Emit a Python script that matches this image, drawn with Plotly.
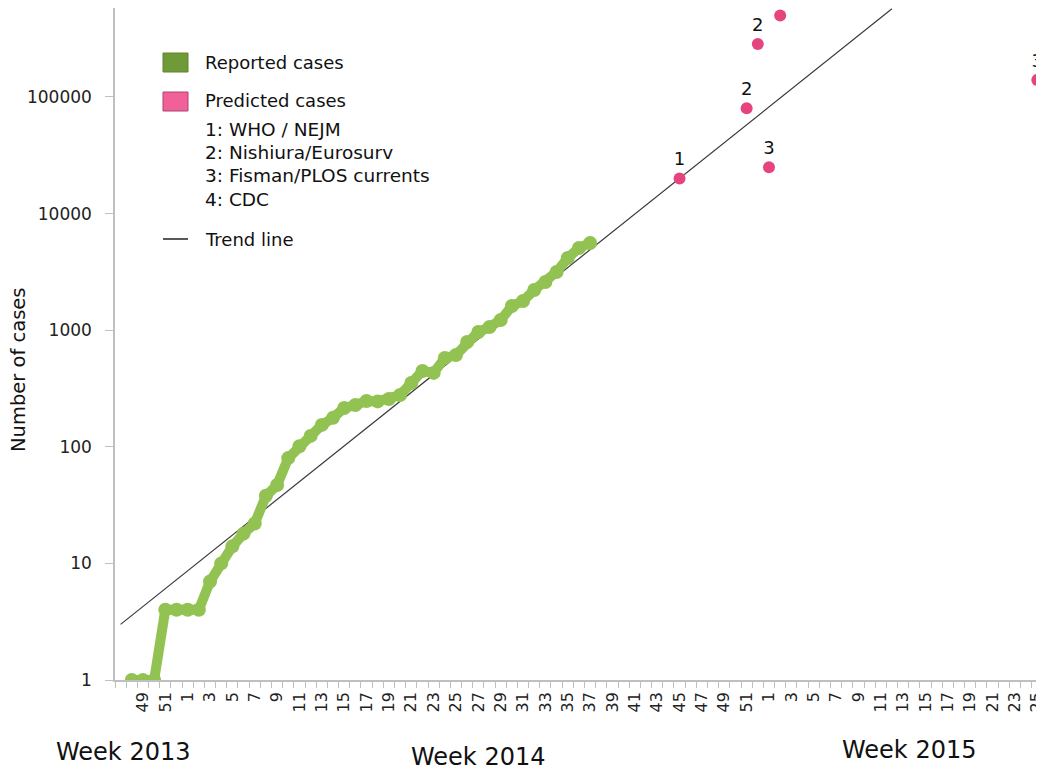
import plotly.graph_objects as go

# ---- category axis: ISO weeks from 2013-W47 to 2015-W26 ----
years_weeks = [(2013, 47, 52), (2014, 1, 52), (2015, 1, 26)]
categories = [f"{y}-W{w:02d}" for y, a, b in years_weeks for w in range(a, b + 1)]
week_numbers = [int(c.split("W")[1]) for c in categories]
pos = {c: i for i, c in enumerate(categories)}

# ---- reported cases (weekly cumulative), starting 2013-W48 ----
reported_start = "2013-W48"
reported_cases = [1, 1, 1, 4, 4, 4, 4, 7, 10, 14, 18, 22, 38, 47, 80, 101, 124, 154,
                  177, 215, 228, 247, 245, 257, 278, 352, 447, 430, 577, 612, 793,
                  966, 1065, 1222, 1612, 1778, 2213, 2590, 3155, 4160, 5070, 5600]

# ---- predicted cases ----
pred_weeks = ["2014-W45", "2014-W51", "2014-W52", "2015-W01", "2015-W02", "2015-W25"]
pred_values = [20000, 80000, 285000, 25000, 500000, 140000]
pred_labels = ["1", "2", "2", "3", "4", "3"]

# ---- trend line ----
trend_weeks = ["2013-W47", "2015-W12"]
trend_values = [3.0, 570000]

# ---- axis ticks ----
y_tickvals = [1, 10, 100, 1000, 10000, 100000]
y_ticktext = ["1", "10", "100", "1000", "10000", "100000"]
x_label_start = "2013-W49"

GREEN = "#92c352"
PINK = "#e6447e"
AXIS = "#bfbfbf"
FONT = "DejaVu Sans"

start = pos[reported_start]
rep_x = list(range(start, start + len(reported_cases)))

fig = go.Figure()
fig.add_trace(go.Scatter(
    x=[pos[w] for w in trend_weeks], y=trend_values, mode="lines",
    line=dict(color="#3a3a3a", width=1.2), showlegend=False, hoverinfo="skip"))
fig.add_trace(go.Scatter(
    x=rep_x, y=reported_cases, mode="lines+markers",
    line=dict(color=GREEN, width=10), marker=dict(color=GREEN, size=14),
    showlegend=False))
fig.add_trace(go.Scatter(
    x=[pos[w] for w in pred_weeks], y=pred_values, mode="markers+text",
    marker=dict(color=PINK, size=12), text=pred_labels, textposition="top center",
    textfont=dict(family=FONT, size=18, color="#111"), cliponaxis=False,
    showlegend=False))

# x ticks: labels every other week from 2013-W49
first = pos[x_label_start]
x_tickvals = list(range(first, len(categories), 2))
x_ticktext = [str(week_numbers[i]) for i in x_tickvals]
n = len(categories)

fig.update_xaxes(
    range=[-0.5, 82.6], showline=True, linecolor=AXIS, linewidth=1.5,
    showgrid=False, zeroline=False, tickmode="array", tickvals=x_tickvals,
    ticktext=x_ticktext, tickangle=-90, ticks="outside", ticklen=4,
    tickcolor="rgba(0,0,0,0)", tickfont=dict(family=FONT, size=16, color="#222"),
    minor=dict(tickmode="array", tickvals=[i - 0.5 for i in range(n + 1)],
               ticks="outside", ticklen=6, tickcolor=AXIS, tickwidth=1.2))
fig.update_yaxes(
    type="log", range=[0, 5.763], showline=True, linecolor=AXIS, linewidth=1.5,
    showgrid=False, zeroline=False, tickmode="array", tickvals=y_tickvals,
    ticktext=y_ticktext, ticks="outside", ticklen=8, tickcolor=AXIS,
    ticklabelstandoff=10,
    tickfont=dict(family=FONT, size=17, color="#222"))

# page body adds an 8px offset; the helpers take picture pixel positions
OFF = 8
L, T, W, H = 115 - OFF, 0, 929, 672


def px(x):
    return (x - OFF - L) / W


def py(y):
    return (T + H - (y - OFF)) / H


annotations = [
    dict(text="Number of cases", x=px(18), y=py(370), textangle=-90,
         font=dict(size=19.5)),
    dict(text="Week 2013", x=px(123), y=py(752), font=dict(size=24)),
    dict(text="Week 2014", x=px(478), y=py(757), font=dict(size=24)),
    dict(text="Week 2015", x=px(909), y=py(750), font=dict(size=24)),
]
legend_rows = [("Reported cases", 62, 18), ("Predicted cases", 101, 18),
               ("1: WHO / NEJM", 129, 18.5), ("2: Nishiura/Eurosurv", 152, 18.5),
               ("3: Fisman/PLOS currents", 175, 18.5), ("4: CDC", 199, 18.5),
               ("Trend line", 239, 18)]
for t, yy, s in legend_rows:
    annotations.append(dict(text=t, x=px(203), y=py(yy), xanchor="left",
                            font=dict(size=s)))
for a in annotations:
    a.setdefault("xanchor", "center")
    a.update(xref="paper", yref="paper", yanchor="middle", showarrow=False)
    a["font"].update(family=FONT, color="#111")

shapes = [
    dict(type="rect", x0=px(163), x1=px(188), y0=py(72), y1=py(53),
         fillcolor="#6f9a37", line=dict(color="#5e8530", width=1)),
    dict(type="rect", x0=px(163), x1=px(188), y0=py(111), y1=py(92),
         fillcolor="#f2609a", line=dict(color="#a9456d", width=1)),
    dict(type="line", x0=px(163), x1=px(188), y0=py(239), y1=py(239),
         line=dict(color="#222", width=1.5)),
]
for s in shapes:
    s.update(xref="paper", yref="paper")

fig.update_layout(
    width=1044, height=772, autosize=False,
    margin=dict(l=L, r=1044 - L - W, t=T, b=772 - T - H),
    plot_bgcolor="white", paper_bgcolor="white",
    font=dict(family=FONT, color="#222"),
    annotations=annotations, shapes=shapes, showlegend=False)

fig.write_html("out.html")
